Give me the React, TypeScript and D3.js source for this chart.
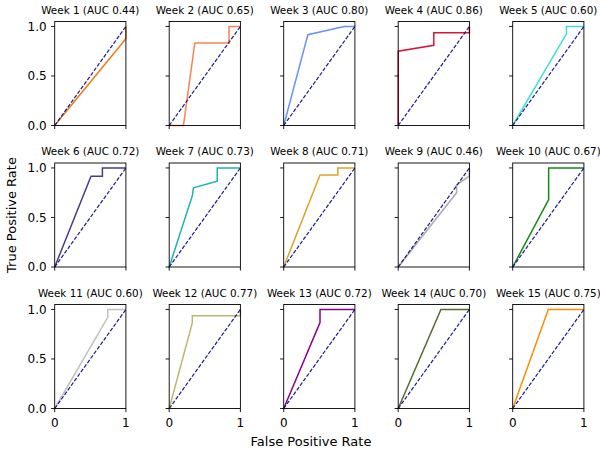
import React from "react";
import * as d3 from "d3";

const weeks = ["Week 1","Week 2","Week 3","Week 4","Week 5","Week 6","Week 7","Week 8","Week 9","Week 10","Week 11","Week 12","Week 13","Week 14","Week 15"];
const aucValues = [0.44, 0.65, 0.80, 0.86, 0.60, 0.72, 0.73, 0.71, 0.46, 0.67, 0.60, 0.77, 0.72, 0.70, 0.75];

const fprData = [
  [0, 1, 1],
  [0, 0.2, 0.36, 0.84, 0.84, 1],
  [0, 0.34, 0.85, 1],
  [0, 0, 0.5, 0.5, 1, 1],
  [0, 0.755, 0.755, 1],
  [0, 0.51, 0.67, 0.67, 1],
  [0, 0.325, 0.34, 0.675, 0.675, 1],
  [0, 0.51, 0.76, 0.76, 1],
  [0, 0.82, 0.82, 1, 1],
  [0, 0.505, 0.505, 1],
  [0, 0.745, 0.745, 1],
  [0, 0.325, 0.325, 1, 1],
  [0, 0.51, 0.51, 1],
  [0, 0.6, 1],
  [0, 0.5, 1],
];
const tprData = [
  [0, 0.875, 1],
  [0, 0, 0.833, 0.833, 1, 1],
  [0, 0.917, 1, 1],
  [0, 0.75, 0.81, 0.937, 0.937, 1],
  [0, 0.926, 1, 1],
  [0, 0.917, 0.917, 1, 1],
  [0, 0.72, 0.8, 0.867, 1, 1],
  [0, 0.93, 0.93, 1, 1],
  [0, 0.75, 0.83, 0.917, 1],
  [0, 0.68, 1, 1],
  [0, 0.92, 1, 1],
  [0, 0.867, 0.937, 0.937, 1],
  [0, 0.867, 1, 1],
  [0, 1, 1],
  [0, 1, 1],
];
const lineColors = ["#ee7a14","#ff7f50","#6495ed","#dc143c","#40e0d0","#483d8b","#20b2aa","#daa520","#a9a9a9","#138a13","#c0c0c0","#bdb76b","#8b008b","#556b2f","#ff8c00"];

const yTicks = [0, 0.5, 1.0];
const xTicks = [0, 1];

const W = 600, H = 453;
const FONT = "DejaVu Sans, sans-serif";

export default function App() {
  const cols = 5;
  const left0 = 54.7, pitchX = 114.5, pw = 71.2;
  const top0 = 21.5, pitchY = 141.5, ph = 104;

  return (
    <svg width={W} height={H} style={{ position: "absolute", left: 0, top: 0, background: "#fff" }} fontFamily={FONT}>
      <rect width={W} height={H} fill="#fff" />
      {weeks.map((wk, i) => {
        const r = Math.floor(i / cols), c = i % cols;
        const x0 = left0 + c * pitchX, y0 = top0 + r * pitchY;
        const xs = d3.scaleLinear().domain([0, 1]).range([x0, x0 + pw]);
        const ys = d3.scaleLinear().domain([0, 1.05]).range([y0 + ph, y0]);
        const line = d3.line<number>().x((d, j) => xs(fprData[i][j])).y((d, j) => ys(tprData[i][j]));
        const diag = d3.line<number>().x((d) => xs(d)).y((d) => ys(d));
        return (
          <g key={wk}>
            <text x={x0 + pw / 2} y={y0 - 8} textAnchor="middle" fontSize={10.4} fill="#000">
              {`${wk} (AUC ${aucValues[i].toFixed(2)})`}
            </text>
            <path d={line(tprData[i]) || ""} fill="none" stroke={lineColors[i]} strokeWidth={1.5} />
            <path d={diag([0, 1]) || ""} fill="none" stroke="#1a1a8c" strokeWidth={1.2} strokeDasharray="3.9,1.7" />
            <rect x={x0} y={y0} width={pw} height={ph} fill="none" stroke="#000" strokeWidth={0.9} />
            {yTicks.map((t) => (
              <g key={t}>
                <line x1={x0 - 3.6} x2={x0} y1={ys(t)} y2={ys(t)} stroke="#000" strokeWidth={0.9} />
                {c === 0 && (
                  <text x={x0 - 8} y={ys(t)} dy="0.36em" textAnchor="end" fontSize={12} fill="#000">
                    {t.toFixed(1)}
                  </text>
                )}
              </g>
            ))}
            {xTicks.map((t) => (
              <g key={t}>
                <line x1={xs(t)} x2={xs(t)} y1={y0 + ph} y2={y0 + ph + 3.6} stroke="#000" strokeWidth={0.9} />
                {r === 2 && (
                  <text x={xs(t)} y={y0 + ph + 18.5} textAnchor="middle" fontSize={12} fill="#000">
                    {String(t)}
                  </text>
                )}
              </g>
            ))}
          </g>
        );
      })}
      <text x={311} y={446} textAnchor="middle" fontSize={13} fill="#000">False Positive Rate</text>
      <text transform="translate(16,215) rotate(-90)" textAnchor="middle" fontSize={13} fill="#000">True Positive Rate</text>
    </svg>
  );
}
